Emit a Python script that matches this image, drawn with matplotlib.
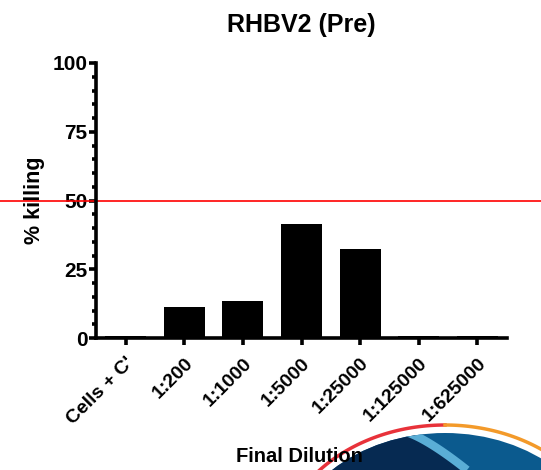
import numpy as np
import matplotlib
matplotlib.use('Agg')
import matplotlib.pyplot as plt
from matplotlib.patches import Ellipse, Polygon
from matplotlib.ticker import MultipleLocator

plt.rcParams['font.family'] = ['Liberation Sans', 'DejaVu Sans']
plt.rcParams['font.weight'] = 'bold'

# data
dilutions = ['Cells + C\'', '1:200', '1:1000', '1:5000', '1:25000', '1:125000', '1:625000']
killing = [0.8, 11.4, 13.6, 41.5, 32.4, 0.8, 0.8]
threshold = 50

W, H = 541, 470
fig = plt.figure(figsize=(W / 100, H / 100), dpi=100)

# background logo in the lower right (pixel coordinates)
bg = fig.add_axes([0, 0, 1, 1], zorder=0)
bg.set_xlim(0, W)
bg.set_ylim(H, 0)
bg.axis('off')
cx, cy, a, b = 445, 560, 168, 135
inner = Ellipse((cx, cy), 2 * a - 16, 2 * b - 16, facecolor='#0b5a8e', edgecolor='none')
bg.add_patch(inner)
dark = Polygon([(300, 470), (370, 428), (405, 428), (462, 470)], closed=True,
               facecolor='#062a52', edgecolor='none')
bg.add_patch(dark)
dark.set_clip_path(inner)
t = np.linspace(0, 1, 50)
sx = 405 + 62 * t
sy = 432 + 38 * t ** 1.3
stripe, = bg.plot(sx, sy, color='#5aaed6', lw=6, solid_capstyle='butt')
stripe.set_clip_path(inner)
th = np.linspace(np.pi * 0.95, np.pi * 1.5, 80)
bg.plot(cx + a * np.cos(th), cy + b * np.sin(th), color='#e8323a', lw=2.5)
th = np.linspace(np.pi * 1.5, np.pi * 2.0, 80)
bg.plot(cx + a * np.cos(th), cy + b * np.sin(th), color='#f39a2a', lw=2.5)

ax = fig.add_axes([96 / W, 1 - 338 / H, 411 / W, 275 / H], zorder=1)
ax.patch.set_alpha(0)
x = np.arange(len(dilutions))
ax.bar(x, killing, width=0.7, color='black')
ax.set_xlim(-0.51, 6.51)
ax.set_ylim(0, 100)

for s in ['top', 'right']:
    ax.spines[s].set_visible(False)
for s in ['left', 'bottom']:
    ax.spines[s].set_linewidth(2.6)

ax.yaxis.set_major_locator(MultipleLocator(25))
ax.yaxis.set_minor_locator(MultipleLocator(5))
ax.tick_params(axis='y', which='major', length=5, width=2.6, labelsize=15, pad=1)
ax.tick_params(axis='y', which='minor', length=3, width=2.6)
ax.tick_params(axis='x', length=5, width=2.6, labelsize=14, pad=7)
ax.set_xticks(x)
ax.set_xticklabels(dilutions, rotation=45, ha='right', rotation_mode='anchor', fontweight='bold')
for lbl in ax.get_yticklabels():
    lbl.set_fontweight('bold')

ax.set_title('RHBV2 (Pre)', fontsize=18, fontweight='bold', pad=22)
ax.set_ylabel('% killing', fontsize=15.5, fontweight='bold')
ax.yaxis.set_label_coords(-0.125, 0.5)
ax.set_xlabel('Final Dilution', fontsize=14.5, fontweight='bold')
ax.xaxis.set_label_coords(0.496, -0.395)

# threshold line runs across the whole figure width
ax.axhline(threshold, xmin=-96 / 411, xmax=(W - 96) / 411, color='red', lw=1.2, clip_on=False)

fig.savefig('out.png', dpi=100)
